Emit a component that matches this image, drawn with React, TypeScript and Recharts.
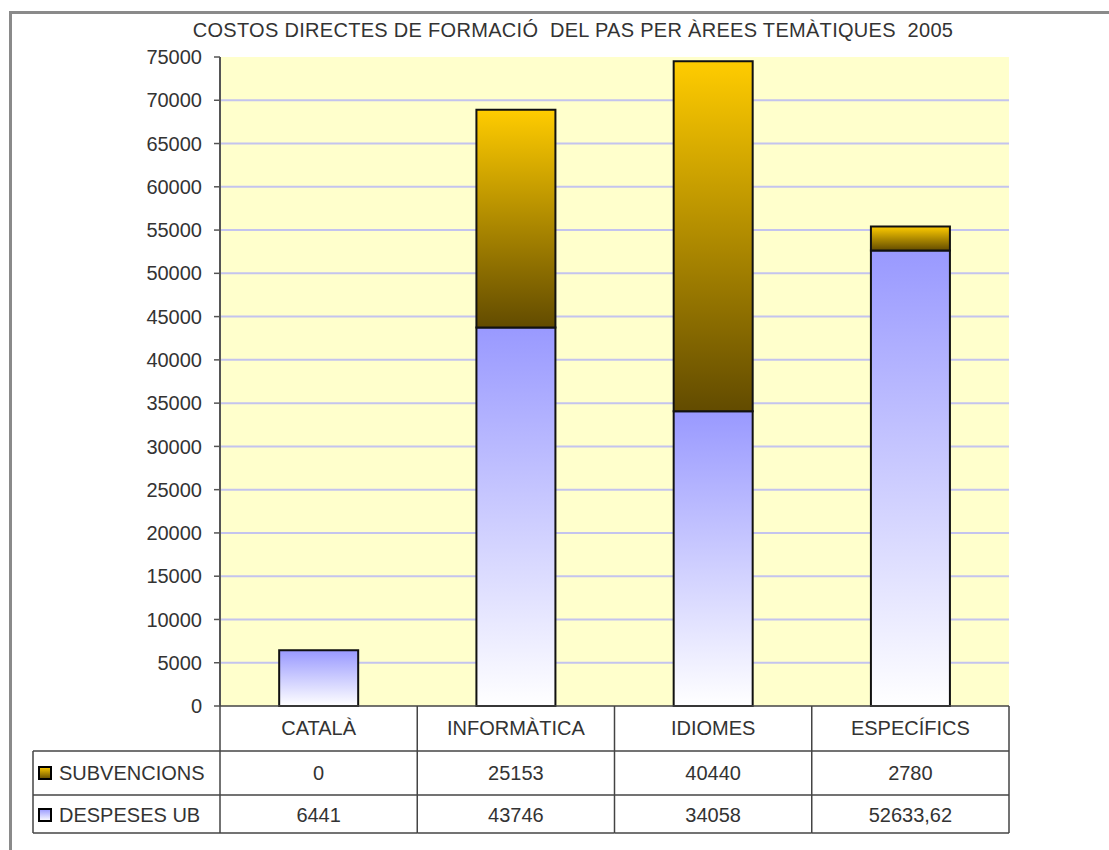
import React from "react";
import { BarChart, Bar, XAxis, YAxis, CartesianGrid } from "recharts";

const categories = ["CATALÀ", "INFORMÀTICA", "IDIOMES", "ESPECÍFICS"];
const subvencions = [0, 25153, 40440, 2780];
const despesesUB = [6441, 43746, 34058, 52633.62];
const subvencionsLabels = ["0", "25153", "40440", "2780"];
const despesesLabels = ["6441", "43746", "34058", "52633,62"];
const yTicks = [0, 5000, 10000, 15000, 20000, 25000, 30000, 35000, 40000, 45000, 50000, 55000, 60000, 65000, 70000, 75000];
const gridValues = yTicks.slice(1, -1);

const W = 1109;
const H = 850;
const M = { top: 57, right: 100, bottom: 17, left: 160 };
const Y_AXIS_W = 60;
const TABLE_H = 127;
const PLOT_LEFT = M.left + Y_AXIS_W;
const PLOT_W = W - PLOT_LEFT - M.right;
const PLOT_BOTTOM = H - M.bottom - TABLE_H;
const COL_W = PLOT_W / categories.length;
const ROW1 = PLOT_BOTTOM + 45;
const ROW2 = ROW1 + 44;
const ROW_END = ROW2 + 38;
const LEFT_EDGE = 33;
const FONT = "'Liberation Sans', Arial, sans-serif";
const TXT = "#333";

const data = categories.map((c, i) => ({
  cat: c,
  despeses: despesesUB[i],
  subv: subvencions[i],
}));

function TableTick(props: any) {
  const { x, payload } = props;
  const i = payload.index;
  const l = x - COL_W / 2;
  const r = x + COL_W / 2;
  const line = { stroke: "#444", strokeWidth: 1.5 };
  return (
    <g fontFamily={FONT} fontSize={20} fill={TXT}>
      <line x1={l} y1={PLOT_BOTTOM} x2={l} y2={ROW_END} {...line} />
      {i === categories.length - 1 && (
        <line x1={r} y1={PLOT_BOTTOM} x2={r} y2={ROW_END} {...line} />
      )}
      <line x1={l} y1={ROW1} x2={r} y2={ROW1} {...line} />
      <line x1={l} y1={ROW2} x2={r} y2={ROW2} {...line} />
      <line x1={l} y1={ROW_END} x2={r} y2={ROW_END} {...line} />
      <text x={x} y={PLOT_BOTTOM + 29} textAnchor="middle">{payload.value}</text>
      <text x={x} y={ROW1 + 29} textAnchor="middle">{subvencionsLabels[i]}</text>
      <text x={x} y={ROW2 + 27} textAnchor="middle">{despesesLabels[i]}</text>
      {i === 0 && (
        <g>
          <line x1={LEFT_EDGE} y1={ROW1} x2={l} y2={ROW1} {...line} />
          <line x1={LEFT_EDGE} y1={ROW2} x2={l} y2={ROW2} {...line} />
          <line x1={LEFT_EDGE} y1={ROW_END} x2={l} y2={ROW_END} {...line} />
          <line x1={LEFT_EDGE} y1={ROW1} x2={LEFT_EDGE} y2={ROW_END} {...line} />
          <rect x={39} y={ROW1 + 16} width={12} height={12} fill="url(#gSubv)" stroke="#000" strokeWidth={2} />
          <rect x={39} y={ROW2 + 14} width={12} height={12} fill="url(#gDesp)" stroke="#000" strokeWidth={2} />
          <text x={59} y={ROW1 + 29}>SUBVENCIONS</text>
          <text x={59} y={ROW2 + 27}>DESPESES UB</text>
        </g>
      )}
    </g>
  );
}

export default function App() {
  return (
    <div style={{ position: "absolute", left: 0, top: 0, width: W, height: H, background: "#fff" }}>
      <div style={{ position: "absolute", left: 9, top: 11, right: 0, bottom: 0, borderTop: "3px solid #8a8a8a", borderLeft: "3px solid #8a8a8a" }} />
      <div
        style={{
          position: "absolute",
          left: 0,
          width: 1146,
          top: 19,
          textAlign: "center",
          fontFamily: FONT,
          fontSize: 20,
          color: TXT,
          whiteSpace: "pre",
          letterSpacing: 0.3,
        }}
      >
        {"COSTOS DIRECTES DE FORMACIÓ  DEL PAS PER ÀREES TEMÀTIQUES  2005"}
      </div>
      <div style={{ position: "absolute", left: 0, top: 0 }}>
        <BarChart width={W} height={H} data={data} margin={M} barCategoryGap="30%">
          <defs>
            <linearGradient id="gDesp" x1="0" y1="0" x2="0" y2="1">
              <stop offset="0%" stopColor="#9999FF" />
              <stop offset="100%" stopColor="#FFFFFF" />
            </linearGradient>
            <linearGradient id="gSubv" x1="0" y1="0" x2="0" y2="1">
              <stop offset="0%" stopColor="#FFCC00" />
              <stop offset="100%" stopColor="#624B00" />
            </linearGradient>
          </defs>
          <CartesianGrid
            vertical={false}
            horizontalValues={gridValues}
            fill="#FFFFCC"
            fillOpacity={1}
            stroke="#C4C4EE"
            strokeWidth={2}
          />
          <YAxis
            width={Y_AXIS_W}
            domain={[0, 75000]}
            ticks={yTicks}
            interval={0}
            tickSize={6}
            tickMargin={12}
            axisLine={{ stroke: "#555", strokeWidth: 2 }}
            tickLine={{ stroke: "#555", strokeWidth: 1.5 }}
            tick={{ fill: TXT, fontSize: 20, fontFamily: FONT }}
          />
          <XAxis
            dataKey="cat"
            height={TABLE_H}
            tickSize={0}
            tickMargin={0}
            tickLine={false}
            axisLine={{ stroke: "#444", strokeWidth: 1.5 }}
            interval={0}
            tick={<TableTick />}
          />
          <Bar dataKey="despeses" stackId="a" fill="url(#gDesp)" stroke="#111" strokeWidth={2} isAnimationActive={false} />
          <Bar dataKey="subv" stackId="a" fill="url(#gSubv)" stroke="#111" strokeWidth={2} isAnimationActive={false} />
        </BarChart>
      </div>
    </div>
  );
}
